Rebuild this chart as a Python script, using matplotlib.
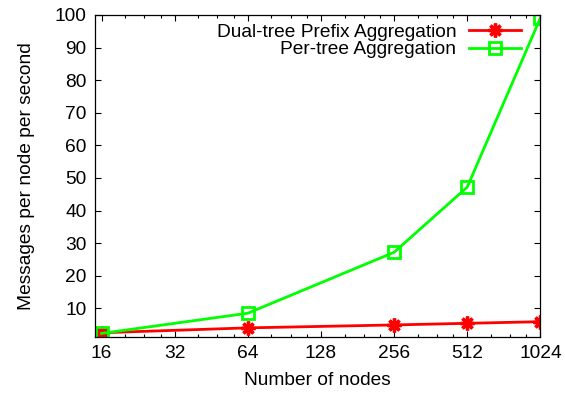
import matplotlib
matplotlib.use("Agg")
import matplotlib.pyplot as plt
from matplotlib.ticker import FixedLocator, NullFormatter

plt.rcParams['font.family'] = ['Liberation Sans', 'DejaVu Sans']

nodes = [16, 64, 256, 512, 1024]
dual_tree = [2.5, 4.0, 4.9, 5.4, 5.9]
per_tree = [2.3, 8.5, 27.2, 47.2, 99.1]
xtick_vals = [16, 32, 64, 128, 256, 512, 1024]
ytick_vals = [10, 20, 30, 40, 50, 60, 70, 80, 90, 100]

fig = plt.figure(figsize=(5.65, 3.94), dpi=100)
ax = fig.add_axes([95/565, 57/394, (540.4-95)/565, (337-15)/394])

fs = 13.8
ax.plot(nodes, dual_tree, color='#ff0000', lw=2.0, marker=(8, 2, 0), ms=10,
        mew=2.4, label='Dual-tree Prefix Aggregation')
ax.plot(nodes, per_tree, color='#00ff00', lw=2.0, marker='s', ms=8,
        mfc='none', mew=2.0, label='Per-tree Aggregation')

ax.set_xscale('log', base=2)
ax.set_xlim(15.04, 1024)
ax.set_ylim(1.2, 100)
ax.set_xticks(xtick_vals)
ax.set_xticklabels([str(v) for v in xtick_vals])
minors = []
for v in xtick_vals[:-1]:
    for f in (1.25, 1.5, 1.75):
        minors.append(v * f)
ax.xaxis.set_minor_locator(FixedLocator(minors))
ax.xaxis.set_minor_formatter(NullFormatter())
ax.set_yticks(ytick_vals)
ax.set_yticklabels([str(v) for v in ytick_vals])

ax.tick_params(axis='both', which='major', direction='in', length=4.5, width=0.8,
               top=True, right=True, labelsize=fs, pad=6, colors='black')
ax.tick_params(axis='both', which='minor', direction='in', length=2.5, width=0.8,
               top=True, right=True)
for s in ax.spines.values():
    s.set_linewidth(0.9)
    s.set_color('black')

ax.set_xlabel('Number of nodes', fontsize=fs, labelpad=7)
ax.set_ylabel('Messages per node per second', fontsize=fs, labelpad=14)

leg = ax.legend(loc='upper right', bbox_to_anchor=(0.975, 1.0), frameon=False,
                fontsize=fs, markerfirst=False, handlelength=2.7,
                handletextpad=0.65, labelspacing=0.0, borderaxespad=0.05)

fig.savefig('out.png', dpi=100)
